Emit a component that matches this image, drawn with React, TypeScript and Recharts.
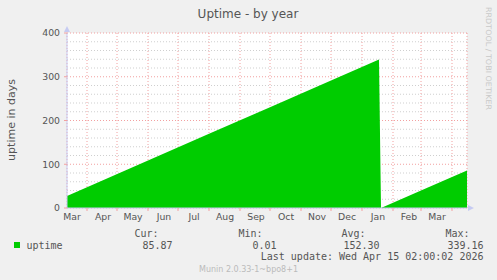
import React from 'react';
import { AreaChart, Area, XAxis, YAxis, CartesianGrid } from 'recharts';

// day offsets counted from 1 Apr 2025
const monthStarts = [0, 30, 61, 91, 122, 153, 183, 214, 244, 275, 306, 334, 365];
const labelDays = [-15, 16, 46, 77, 107, 138, 169, 199, 230, 260, 291, 322, 350];
const monthNames = ['Mar', 'Apr', 'May', 'Jun', 'Jul', 'Aug', 'Sep', 'Oct', 'Nov', 'Dec', 'Jan', 'Feb', 'Mar'];

const days = [-20, 0, 61, 122, 183, 244, 292, 294, 334, 365, 380];
const uptime = [27.6, 47.5, 108.5, 169.5, 230.5, 291.5, 339.16, 0.01, 40, 71, 85.87];

const yTicks = [0, 100, 200, 300, 400];
const yMinorTicks = [20, 40, 60, 80, 120, 140, 160, 180, 220, 240, 260, 280, 320, 340, 360, 380];

const stats = [
  { label: 'Cur:', value: '85.87', right: 172.5 },
  { label: 'Min:', value: '0.01', right: 276.5 },
  { label: 'Avg:', value: '152.30', right: 379.5 },
  { label: 'Max:', value: '339.16', right: 483.5 },
];

const data = days.map((d, i) => ({ day: d, uptime: uptime[i] }));

const AXIS = '#c6cbf2';
const MAJOR = '#f2a0a0';
const MINOR = '#cfcfcf';
const TEXT = '#555';
const tickStyle = { fontSize: 9.3, fill: TEXT, fontFamily: 'DejaVu Sans' };

// empty tick: keeps the ticks (and so the grid lines) without drawing labels
const NoLabel = () => <g />;

const XArrow = (props: any) => {
  const vb = props.viewBox;
  if (!vb) return null;
  const x = vb.x + vb.width;
  const y = vb.y;
  return <path d={`M${x + 1},${y - 3} L${x + 7},${y} L${x + 1},${y + 3} Z`} fill={AXIS} />;
};

const YArrow = (props: any) => {
  const vb = props.viewBox;
  if (!vb) return null;
  const x = vb.x + vb.width;
  const y = vb.y;
  return <path d={`M${x - 3},${y - 1} L${x},${y - 7} L${x + 3},${y - 1} Z`} fill={AXIS} />;
};

export default function App() {
  return (
    <div style={{ position: 'absolute', left: 0, top: 0, width: 497, height: 280, background: '#f0f0f0' }}>
      <AreaChart width={497} height={280} data={data} margin={{ top: 33, right: 30, left: 27, bottom: 52 }}>
        <CartesianGrid
          xAxisId="a"
          yAxisId="main"
          vertical={false}
          horizontalValues={yMinorTicks}
          fill="#fff"
          stroke={MINOR}
          strokeDasharray="1 2"
        />
        <CartesianGrid xAxisId="a" yAxisId="main" stroke={MAJOR} strokeDasharray="1 2" />
        <XAxis
          xAxisId="a"
          type="number"
          dataKey="day"
          domain={[-20, 380]}
          ticks={monthStarts}
          interval={0}
          tick={NoLabel}
          tickSize={3}
          tickLine={{ stroke: MAJOR }}
          axisLine={{ stroke: AXIS }}
          height={3}
          label={<XArrow />}
        />
        <XAxis
          xAxisId="b"
          type="number"
          dataKey="day"
          domain={[-20, 380]}
          ticks={labelDays}
          tickFormatter={(v: number) => monthNames[labelDays.indexOf(v)]}
          tickLine={false}
          axisLine={false}
          tickSize={0}
          tickMargin={2}
          tick={tickStyle}
          interval={0}
          height={17}
        />
        <YAxis
          yAxisId="main"
          domain={[0, 400]}
          ticks={yTicks}
          width={40}
          tickSize={3}
          tickMargin={4}
          tickLine={{ stroke: MAJOR }}
          axisLine={{ stroke: AXIS }}
          tick={tickStyle}
          interval={0}
          label={<YArrow />}
        />
        <Area
          xAxisId="a"
          yAxisId="main"
          type="linear"
          dataKey="uptime"
          stroke="none"
          fill="#00cc00"
          fillOpacity={1}
          isAnimationActive={false}
        />
      </AreaChart>
      <svg width={497} height={280} style={{ position: 'absolute', left: 0, top: 0, pointerEvents: 'none' }}>
        <text x={248} y={18} textAnchor="middle" fontFamily="DejaVu Sans" fontSize={12} fill={TEXT}>
          Uptime - by year
        </text>
        <text transform="translate(15,120) rotate(-90)" textAnchor="middle" fontFamily="DejaVu Sans" fontSize={11} fill={TEXT}>
          uptime in days
        </text>
        <text
          transform="translate(485.5,7) rotate(90)"
          fontFamily="DejaVu Sans"
          fontSize={7.5}
          fill="#c8c8c8"
          textLength={103}
          lengthAdjust="spacingAndGlyphs"
        >
          RRDTOOL / TOBI OETIKER
        </text>
        <rect x={14} y={242} width={6} height={6} fill="#00cc00" />
        <g fontFamily="DejaVu Sans Mono" fontSize={10} fill={TEXT}>
          <text x={26.5} y={248.5}>uptime</text>
          {stats.map((s) => (
            <React.Fragment key={s.label}>
              <text x={s.right - 14} y={237} textAnchor="end">{s.label}</text>
              <text x={s.right} y={248.5} textAnchor="end">{s.value}</text>
            </React.Fragment>
          ))}
          <text x={483.5} y={259.5} textAnchor="end">Last update: Wed Apr 15 02:00:02 2026</text>
        </g>
        <text x={248.5} y={272} textAnchor="middle" fontFamily="DejaVu Sans" fontSize={8} fill="#bbb" textLength={99} lengthAdjust="spacingAndGlyphs">
          Munin 2.0.33-1~bpo8+1
        </text>
      </svg>
    </div>
  );
}
